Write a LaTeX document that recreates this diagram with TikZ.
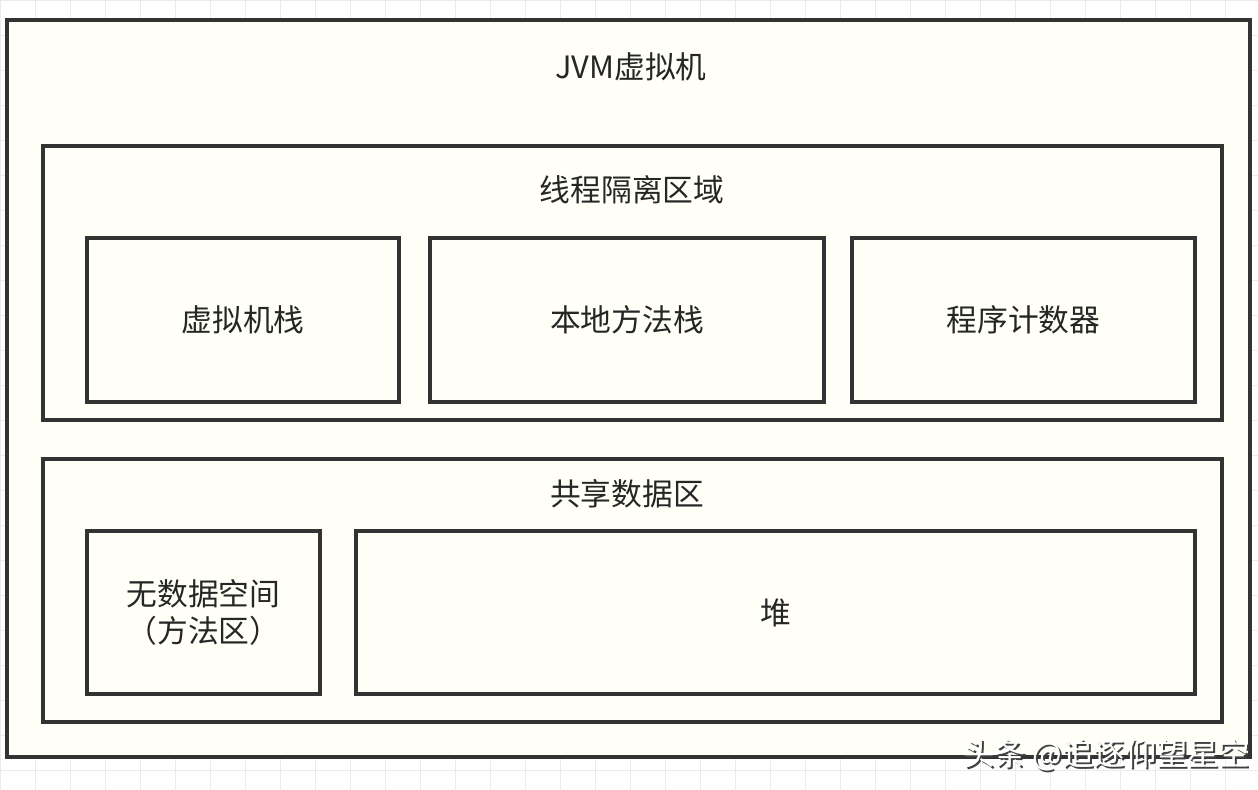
\documentclass[tikz,border=0pt]{standalone}
\usepackage{fontspec}
\setmainfont{Noto Sans CJK SC}
\usetikzlibrary{positioning}

\begin{document}
\begin{tikzpicture}[
  area/.style={draw=black!80, line width=2.2pt, fill=yellow!3, inner sep=0pt},
  title/.style={font=\fontsize{17.5}{21}\selectfont, text=black!85},
  wmark/.style={font=\fontsize{17.8}{21}\selectfont}]
\useasboundingbox (0,0) rectangle (25.16,-15.8);
\fill[white] (0,0) rectangle (25.16,-15.8);
\draw[black!8, step=0.7] (0,-15.8) grid (25.16,0);
% outer frame
\node[area, minimum width=24.86cm, minimum height=14.74cm] (jvm) at (12.57,-7.77) {};
\node[title] (jvmt) at (12.62,-1.34) {JVM虚拟机};
% thread private part
\node[area, minimum width=23.58cm, minimum height=5.48cm] (priv) at (12.65,-5.66) {};
\node[title] (privt) at (12.64,-3.80) {线程隔离区域};
\node[area, minimum width=6.24cm, minimum height=3.28cm, title] (vms) at (4.86,-6.40) {虚拟机栈};
\node[area, minimum width=7.88cm, minimum height=3.28cm, title] (nms) at (12.54,-6.40) {本地方法栈};
\node[area, minimum width=6.86cm, minimum height=3.28cm, title] (pc) at (20.47,-6.40) {程序计数器};
% shared part
\node[area, minimum width=23.58cm, minimum height=5.26cm] (shared) at (12.65,-11.81) {};
\node[title] (sharedt) at (12.54,-9.88) {共享数据区};
\node[area, minimum width=4.66cm, minimum height=3.26cm, title, align=center] (meth) at (4.07,-12.25) {无数据空间\\（方法区）};
\node[area, minimum width=16.78cm, minimum height=3.26cm, title] (heap) at (15.51,-12.25) {堆};
% watermark
\node[wmark, text=black!75, anchor=west, inner sep=0pt] (wms) at (19.30,-15.14) {头条 @追逐仰望星空};
\node[wmark, text=white, anchor=west, inner sep=0pt] (wm) at (19.26,-15.10) {头条 @追逐仰望星空};
\end{tikzpicture}
\end{document}
